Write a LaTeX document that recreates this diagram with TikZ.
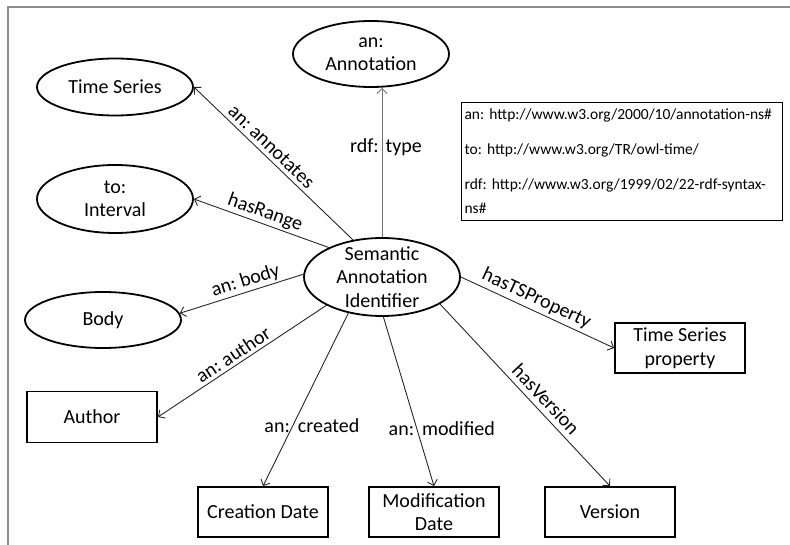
\documentclass[tikz,border=0pt]{standalone}
\usepackage{fontspec}
\setmainfont{Carlito}
\usetikzlibrary{shapes.geometric,arrows.meta}
\begin{document}
\frenchspacing
\begin{tikzpicture}[x=1pt,y=-1pt,
  every node/.style={font=\fontsize{20}{23.5}\selectfont},
  ell/.style={draw, ellipse, line width=1.8pt, inner sep=-20pt, align=center, minimum width=156pt},
  box/.style={draw, rectangle, line width=1.8pt, inner sep=0pt, align=center, minimum width=130pt, minimum height=50pt},
  rel/.style={line width=0.9pt, draw=black!85, -{Straight Barb[length=5pt,width=10pt,line width=0.9pt]}},
  lab/.style={sloped, above, inner sep=2pt},
  hlab/.style={inner sep=0pt},
  legend/.style={draw, line width=1.1pt, anchor=north west, align=left, text width=315pt, inner xsep=3pt, inner ysep=4pt, minimum height=118pt, font=\fontsize{15.5}{24}\selectfont}
]
\useasboundingbox (0,0) rectangle (790,545);
\draw[line width=1.5pt, draw=black!45] (8,545) -- (8,7) -- (790,7);

\node[ell, minimum height=66pt] (ann) at (371,54) {an:\\Annotation};
\node[ell, minimum height=57pt] (ts) at (115,87) {Time Series};
\node[ell, minimum height=68pt] (int) at (115,199) {to:\\Interval};
\node[ell, minimum height=56pt] (body) at (103,320) {Body};
\node[ell, minimum height=78pt] (sem) at (382,277) {Semantic\\Annotation\\Identifier};

\node[box, minimum height=51pt] (author) at (92,417) {Author};
\node[box] (cre) at (263,512) {Creation Date};
\node[box] (mod) at (434,512) {Modification\\Date};
\node[box] (ver) at (610,512) {Version};
\node[box] (tsp) at (680,348) {Time Series\\property};

\node[legend] (leg) at (461,102) {\mbox{an: http://www.w3.org/2000/10/annotation-ns\#}\\[11pt]
\mbox{to: http://www.w3.org/TR/owl-time/}\\[11pt]
\mbox{rdf: http://www.w3.org/1999/02/22-rdf-syntax-}\\\mbox{ns\#}};

\draw[rel, draw=black!55] (sem.north) -- node[pos=0.6, xshift=4pt, hlab] {rdf:\hspace{7pt}type} (sem.north |- ann.south);
\draw[rel] (sem.128) -- node[lab, pos=0.56, inner sep=4pt] {an: annotates} (ts.east);
\draw[rel] (sem.151) -- node[lab, pos=0.5] {hasRange} (int.east);
\draw[rel] (sem.178) -- node[lab, pos=0.44] {an: body} (body.5);
\draw[rel] (sem.207) -- node[lab, pos=0.52, inner sep=3pt] {an: author} (author.east);
\draw[rel] (sem.227) -- node[pos=0.65, xshift=19pt, hlab] {an:\hspace{8pt}created} (cre.north);
\draw[rel] (sem.272) -- node[pos=0.66, xshift=25pt, hlab] {an:\hspace{8pt}modified} (mod.north);
\draw[rel] (sem.-25) -- node[lab, pos=0.57, inner sep=5pt] {hasVersion} (ver.north);
\draw[rel] (sem.0) -- node[lab, pos=0.46, inner sep=3pt] {hasTSProperty} (tsp.west);
\end{tikzpicture}
\end{document}
